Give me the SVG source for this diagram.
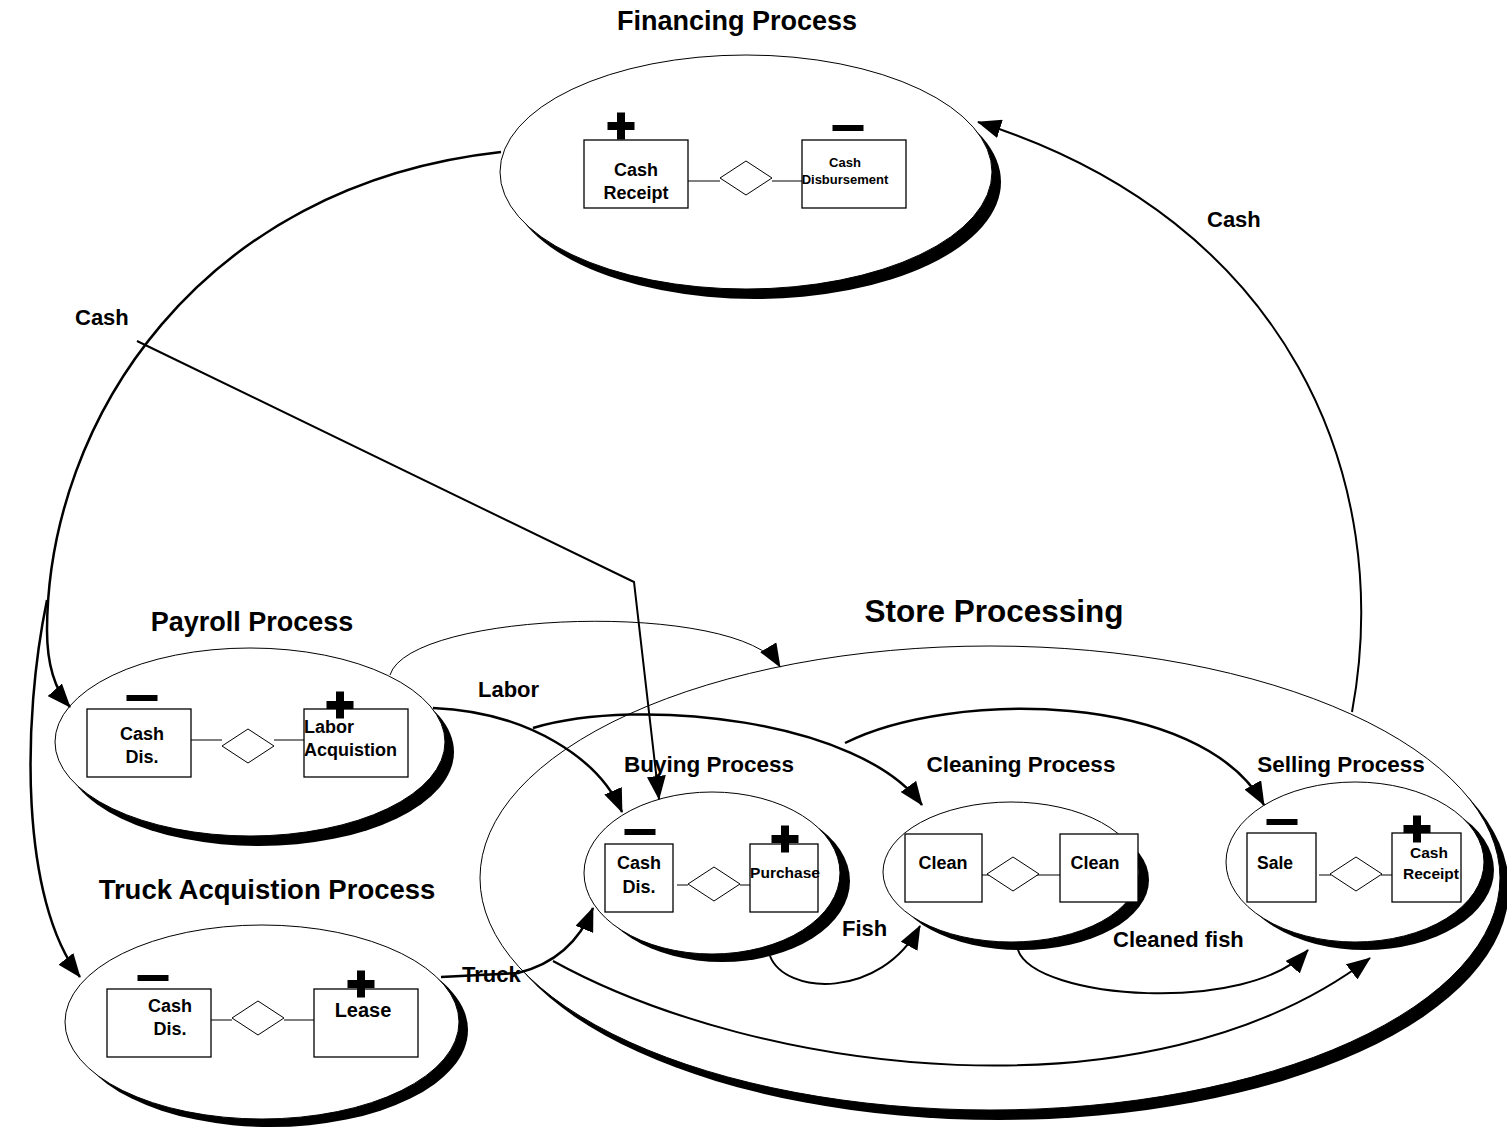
<svg xmlns="http://www.w3.org/2000/svg" width="1507" height="1127" viewBox="0 0 1507 1127">
<style>
.t{font-family:"Liberation Sans",Arial,sans-serif;font-weight:bold;fill:#000}
.m{text-anchor:middle}
.ell{fill:#fff;stroke:#000;stroke-width:1}
.sh{fill:#000}
.box{fill:#fff;stroke:#000;stroke-width:1.3}
.dia{fill:#fff;stroke:#000;stroke-width:1}
.ln{stroke:#000;stroke-width:1;fill:none}
.c{fill:none;stroke:#000;stroke-width:2.5}
.cm{fill:none;stroke:#000;stroke-width:2}
.cf{fill:none;stroke:#000;stroke-width:1}
.title{font-size:27.5px}
.sub{font-size:22.5px}
.lab{font-size:22px}
.b18{font-size:18px}
</style>
<defs>
<marker id="ah" viewBox="0 0 24 19" refX="23" refY="9.5" markerWidth="24" markerHeight="19" markerUnits="userSpaceOnUse" orient="auto">
<path d="M0,0 L24,9.5 L0,19 Z" fill="#000"/>
</marker>
<g id="plus"><rect x="-13.5" y="-4" width="27" height="8"/><rect x="-4" y="-13.5" width="8" height="27"/></g>
<rect id="minus" x="-15.5" y="-3" width="31" height="6"/>
<path id="dia" class="dia" d="M-26,0 L0,-17 L26,0 L0,17 Z"/>
</defs>

<g id="store-processing">
<ellipse class="sh" cx="999" cy="888" rx="510" ry="232"/>
<ellipse class="ell" cx="990" cy="878" rx="510" ry="232"/>
<text class="t m" x="994" y="622" font-size="31.5">Store Processing</text>
</g>

<g id="buying-process">
<text class="t m sub" x="709" y="772">Buying Process</text>
<ellipse class="sh" cx="722" cy="881" rx="128" ry="81"/>
<ellipse class="ell" cx="712" cy="873" rx="128" ry="81"/>
<rect class="box" x="605" y="844" width="68" height="68"/>
<rect class="box" x="750" y="844" width="68" height="68"/>
<line class="ln" x1="677" y1="885" x2="688" y2="885"/>
<line class="ln" x1="740" y1="885" x2="750" y2="885"/>
<use href="#dia" x="714" y="884"/>
<use href="#minus" x="640" y="832"/>
<use href="#plus" x="785" y="839"/>
<text class="t m b18" x="639" y="869">Cash</text>
<text class="t m b18" x="639" y="893">Dis.</text>
<text class="t m" x="785" y="878" font-size="15.5">Purchase</text>
</g>

<g id="cleaning-process">
<text class="t m sub" x="1021" y="772">Cleaning Process</text>
<ellipse class="sh" cx="1021" cy="880" rx="128" ry="70"/>
<ellipse class="ell" cx="1011" cy="872" rx="128" ry="70"/>
<rect class="box" x="905" y="834" width="77" height="68"/>
<rect class="box" x="1060" y="834" width="78" height="68"/>
<line class="ln" x1="982" y1="875" x2="990" y2="875"/>
<line class="ln" x1="1036" y1="875" x2="1060" y2="875"/>
<use href="#dia" x="1013" y="874"/>
<text class="t m b18" x="943" y="869">Clean</text>
<text class="t m b18" x="1095" y="869">Clean</text>
</g>

<g id="selling-process">
<text class="t m sub" x="1341" y="772">Selling Process</text>
<ellipse class="sh" cx="1365" cy="870" rx="129" ry="80"/>
<ellipse class="ell" cx="1355" cy="862" rx="129" ry="80"/>
<rect class="box" x="1247" y="833" width="69" height="69"/>
<rect class="box" x="1392" y="833" width="69" height="69"/>
<line class="ln" x1="1319" y1="875" x2="1331" y2="875"/>
<line class="ln" x1="1381" y1="875" x2="1392" y2="875"/>
<use href="#dia" x="1356" y="874"/>
<use href="#minus" x="1282" y="822"/>
<use href="#plus" x="1417" y="829"/>
<text class="t" x="1257" y="869" font-size="17.5">Sale</text>
<text class="t m" x="1429" y="858" font-size="15.5">Cash</text>
<text class="t m" x="1431" y="879" font-size="15.5">Receipt</text>
</g>

<g id="financing-process">
<text class="t m" x="737" y="30" font-size="27">Financing Process</text>
<ellipse class="sh" cx="755" cy="182" rx="246" ry="117"/>
<ellipse class="ell" cx="746" cy="172" rx="246" ry="117"/>
<rect class="box" x="584" y="140" width="104" height="68"/>
<rect class="box" x="802" y="140" width="104" height="68"/>
<line class="ln" x1="688" y1="181" x2="720" y2="181"/>
<line class="ln" x1="772" y1="181" x2="802" y2="181"/>
<use href="#dia" x="746" y="178"/>
<use href="#plus" x="621" y="126"/>
<use href="#minus" x="848" y="128"/>
<text class="t m b18" x="636" y="176">Cash</text>
<text class="t m b18" x="636" y="199">Receipt</text>
<text class="t m" x="845" y="167" font-size="13">Cash</text>
<text class="t m" x="845" y="184" font-size="13">Disbursement</text>
</g>

<g id="payroll-process">
<text class="t m" x="252" y="631" font-size="27">Payroll Process</text>
<ellipse class="sh" cx="259" cy="752" rx="195" ry="94"/>
<ellipse class="ell" cx="250" cy="742" rx="195" ry="94"/>
<rect class="box" x="87" y="709" width="104" height="68"/>
<rect class="box" x="304" y="709" width="104" height="68"/>
<line class="ln" x1="191" y1="740" x2="222" y2="740"/>
<line class="ln" x1="274" y1="740" x2="304" y2="740"/>
<use href="#dia" x="248" y="746"/>
<use href="#minus" x="142" y="698"/>
<use href="#plus" x="340" y="705"/>
<text class="t m b18" x="142" y="740">Cash</text>
<text class="t m b18" x="142" y="763">Dis.</text>
<text class="t b18" x="304" y="733">Labor</text>
<text class="t b18" x="304" y="756">Acquistion</text>
</g>

<g id="truck-acquisition-process">
<text class="t m title" x="267" y="899">Truck Acquistion Process</text>
<ellipse class="sh" cx="271" cy="1030" rx="197" ry="97"/>
<ellipse class="ell" cx="262" cy="1022" rx="197" ry="97"/>
<rect class="box" x="107" y="989" width="104" height="68"/>
<rect class="box" x="314" y="989" width="104" height="68"/>
<line class="ln" x1="211" y1="1020" x2="232" y2="1020"/>
<line class="ln" x1="284" y1="1020" x2="314" y2="1020"/>
<use href="#dia" x="258" y="1018"/>
<use href="#minus" x="153" y="978"/>
<use href="#plus" x="361" y="984"/>
<text class="t m b18" x="170" y="1012">Cash</text>
<text class="t m b18" x="170" y="1035">Dis.</text>
<text class="t m" x="363" y="1017" font-size="20">Lease</text>
</g>

<g id="connectors">
<path class="c" d="M501,152 C200,185 48,420 47,630 C47,665 55,690 70,707" marker-end="url(#ah)"/>
<path class="c" d="M47,600 C22,720 20,900 80,977" marker-end="url(#ah)"/>
<path class="cm" d="M137,341 L634,582 L659,799" marker-end="url(#ah)"/>
<path class="cm" d="M1352,712 C1395,480 1290,220 978,122" marker-end="url(#ah)"/>
<path class="c" d="M433,708 C530,712 600,760 622,812" marker-end="url(#ah)"/>
<path class="c" d="M533,728 C640,696 860,720 922,805" marker-end="url(#ah)"/>
<path class="c" d="M845,743 C950,690 1200,690 1264,805" marker-end="url(#ah)"/>
<path class="cf" d="M390,675 C410,610 740,600 780,667" marker-end="url(#ah)"/>
<path class="c" d="M441,977 L518,973 C550,965 578,945 593,908" marker-end="url(#ah)"/>
<path class="cm" d="M553,961 C760,1075 1150,1125 1370,958" marker-end="url(#ah)"/>
<path class="cm" d="M770,956 C785,995 880,1000 920,926" marker-end="url(#ah)"/>
<path class="cm" d="M1018,950 C1035,1000 1250,1015 1308,950" marker-end="url(#ah)"/>
<text class="t lab" x="75" y="325">Cash</text>
<text class="t lab" x="1207" y="227">Cash</text>
<text class="t lab" x="478" y="697">Labor</text>
<text class="t lab" x="842" y="936">Fish</text>
<text class="t lab" x="1113" y="947">Cleaned fish</text>
<text class="t lab" x="462" y="982">Truck</text>
</g>
</svg>
